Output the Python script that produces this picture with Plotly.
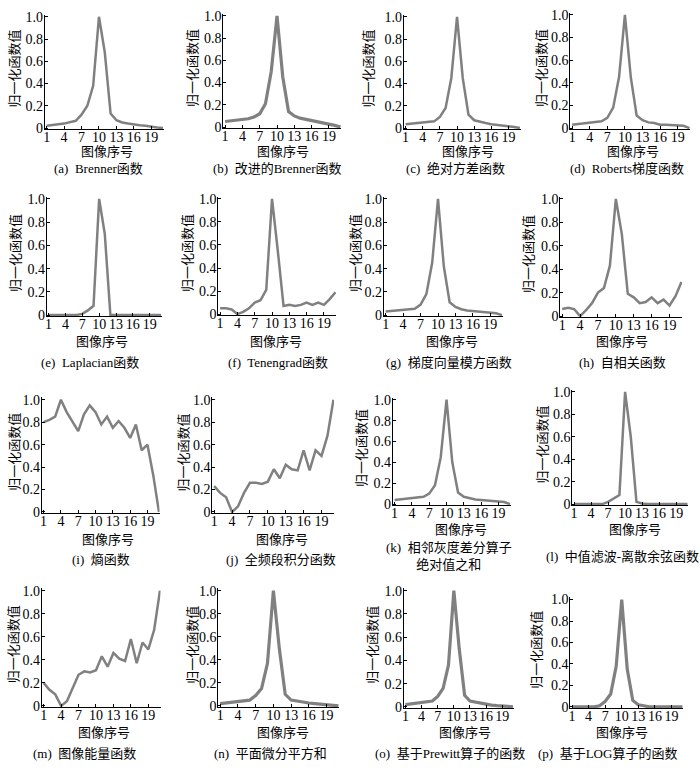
import plotly.graph_objects as go

# image index (21 images per focus series)
images = list(range(1, 22))

brenner = [0.02, 0.03, 0.035, 0.04, 0.05, 0.065, 0.12, 0.2, 0.38, 1.0, 0.68,
           0.13, 0.07, 0.05, 0.04, 0.03, 0.025, 0.02, 0.01, 0.005, 0.0]
brenner_improved = [0.05, 0.055, 0.06, 0.065, 0.075, 0.09, 0.12, 0.21, 0.5, 1.0, 0.45,
                    0.14, 0.1, 0.08, 0.07, 0.055, 0.05, 0.035, 0.025, 0.015, 0.0]
abs_variance = [0.035, 0.04, 0.045, 0.05, 0.055, 0.06, 0.1, 0.18, 0.45, 1.0, 0.45,
                0.12, 0.07, 0.055, 0.045, 0.035, 0.03, 0.025, 0.02, 0.01, 0.0]
roberts = [0.03, 0.035, 0.04, 0.045, 0.05, 0.06, 0.09, 0.18, 0.45, 1.0, 0.45,
           0.11, 0.07, 0.05, 0.045, 0.03, 0.03, 0.025, 0.02, 0.02, 0.0]
laplacian = [0.0, 0.0, 0.0, 0.0, 0.0, 0.0, 0.01, 0.04, 0.08, 1.0, 0.7,
             0.0, 0.0, 0.0, 0.0, 0.0, 0.0, 0.0, 0.0, 0.0, 0.0]
tenengrad = [0.05, 0.05, 0.04, 0.0, 0.02, 0.05, 0.1, 0.12, 0.21, 1.0, 0.55,
             0.07, 0.08, 0.07, 0.08, 0.1, 0.08, 0.1, 0.08, 0.13, 0.19]
grad_square = [0.03, 0.035, 0.04, 0.045, 0.05, 0.055, 0.09, 0.18, 0.45, 1.0, 0.42,
               0.11, 0.07, 0.05, 0.04, 0.035, 0.03, 0.025, 0.02, 0.015, 0.0]
autocorr = [0.06, 0.07, 0.06, 0.0, 0.05, 0.11, 0.2, 0.24, 0.43, 1.0, 0.7,
            0.19, 0.16, 0.11, 0.12, 0.16, 0.11, 0.14, 0.09, 0.17, 0.29]
entropy = [0.8, 0.82, 0.85, 1.0, 0.89, 0.81, 0.72, 0.87, 0.95, 0.89, 0.78,
           0.85, 0.75, 0.81, 0.75, 0.66, 0.78, 0.55, 0.6, 0.33, 0.0]
full_band = [0.23, 0.17, 0.13, 0.0, 0.05, 0.17, 0.26, 0.26, 0.25, 0.27, 0.38,
             0.3, 0.42, 0.38, 0.37, 0.55, 0.37, 0.55, 0.5, 0.68, 1.0]
adj_diff = [0.04, 0.045, 0.05, 0.055, 0.06, 0.07, 0.1, 0.18, 0.45, 1.0, 0.4,
            0.11, 0.07, 0.055, 0.045, 0.04, 0.035, 0.03, 0.03, 0.02, 0.0]
median_dct = [0.0, 0.0, 0.0, 0.0, 0.0, 0.0, 0.02, 0.05, 0.08, 1.0, 0.6,
              0.02, 0.005, 0.0, 0.0, 0.0, 0.0, 0.0, 0.0, 0.0, 0.0]
energy = [0.2, 0.14, 0.1, 0.0, 0.04, 0.16, 0.27, 0.3, 0.29, 0.31, 0.43,
          0.34, 0.46, 0.41, 0.39, 0.58, 0.37, 0.55, 0.49, 0.66, 1.0]
plane_diff = [0.02, 0.025, 0.03, 0.035, 0.04, 0.05, 0.09, 0.15, 0.37, 1.0, 0.5,
              0.1, 0.05, 0.04, 0.03, 0.025, 0.02, 0.015, 0.01, 0.005, 0.0]
prewitt = [0.02, 0.025, 0.03, 0.035, 0.04, 0.05, 0.09, 0.16, 0.36, 1.0, 0.5,
           0.1, 0.05, 0.04, 0.03, 0.02, 0.015, 0.01, 0.01, 0.005, 0.0]
log_op = [0.0, 0.0, 0.0, 0.0, 0.0, 0.01, 0.05, 0.12, 0.38, 1.0, 0.35,
          0.06, 0.02, 0.01, 0.0, 0.0, 0.0, 0.0, 0.0, 0.0, 0.0]

captions = ["(a)  Brenner函数", "(b)  改进的Brenner函数", "(c)  绝对方差函数",
            "(d)  Roberts梯度函数", "(e)  Laplacian函数", "(f)  Tenengrad函数",
            "(g)  梯度向量模方函数", "(h)  自相关函数", "(i)  熵函数",
            "(j)  全频段积分函数", "(k)  相邻灰度差分算子<br>绝对值之和",
            "(l)  中值滤波-离散余弦函数", "(m)  图像能量函数", "(n)  平面微分平方和",
            "(o)  基于Prewitt算子的函数", "(p)  基于LOG算子的函数"]

x_ticks = [1, 4, 7, 10, 13, 16, 19]
y_ticks = [0, 0.2, 0.4, 0.6, 0.8, 1.0]
y_ticktext = ["0", "0.2", "0.4", "0.6", "0.8", "1.0"]

series = [brenner, brenner_improved, abs_variance, roberts, laplacian, tenengrad,
          grad_square, autocorr, entropy, full_band, adj_diff, median_dct,
          energy, plane_diff, prewitt, log_op]
thick = [False, True, False, False, False, False, False, False,
         False, False, False, False, False, True, True, True]

# panel geometry in pixels: axis left, right, top(1.0), bottom(0)
boxes = [(43, 162, 12, 125), (222, 340, 11, 124), (403, 520, 12, 125), (570, 690, 10, 125),
         (45, 160, 197, 315), (217, 335, 197, 314), (383, 502, 197, 315), (560, 682, 197, 316),
         (40, 158, 401, 515), (211, 333, 401, 515), (392, 510, 401, 507), (572, 688, 393, 507),
         (40, 159, 595, 712), (217, 338, 595, 712), (403, 513, 595, 713), (570, 683, 604, 713)]
# x-title (cx, cy), caption (cx, cy), y-title cx
xtitle_pos = [(105, 149), (282, 149), (467, 149), (633, 149),
              (100, 342), (275, 342), (451, 342), (622, 342),
              (106, 543), (281, 543), (460, 533), (635, 533),
              (102, 739), (282, 739), (464, 739), (622, 739)]
caption_pos = [(97, 166), (276, 166), (455, 166), (627, 166),
               (88, 363), (277, 363), (448, 363), (622, 363),
               (99, 563), (280, 563), (448, 560), (622, 560),
               (83, 760), (269, 760), (449, 760), (607, 760)]
ytitle_x = [13, 191, 368, 541, 13, 186, 354, 528, 13, 182, 361, 542, 11, 191, 372, 536]

W, H = 700, 768
SERIF = "Liberation Serif, 'Noto Sans CJK SC', serif"


def px(x):
    return x / W


def py(y):
    return 1 - y / H


fig = go.Figure()
layout = dict(width=W, height=H, margin=dict(l=0, r=0, t=0, b=0),
              plot_bgcolor="white", paper_bgcolor="white", showlegend=False,
              font=dict(family=SERIF, color="black"))
annotations = []

for i, vals in enumerate(series):
    n = i + 1
    sx = "" if n == 1 else str(n)
    left, right, top, bottom = boxes[i]
    hpu = bottom - top
    fig.add_trace(go.Scatter(x=images, y=vals, mode="lines",
                             line=dict(color="#808080", width=3.2 if thick[i] else 2.5),
                             xaxis="x" + sx, yaxis="y" + sx, hoverinfo="skip"))
    layout["xaxis" + sx] = dict(
        domain=[px(left), px(right)], range=[0.7, 21.1], anchor="y" + sx,
        tickvals=x_ticks, ticks="inside", ticklen=3, tickcolor="black",
        ticklabelstandoff=-5,
        showline=True, linecolor="black", linewidth=1, showgrid=False, zeroline=False,
        tickfont=dict(size=14, family=SERIF))
    layout["yaxis" + sx] = dict(
        domain=[py(bottom + 0.01 * hpu), py(top - 0.02 * hpu)], range=[-0.01, 1.02],
        anchor="x" + sx, tickvals=y_ticks, ticktext=y_ticktext,
        ticks="inside", ticklen=3, tickcolor="black", ticklabelstandoff=-2,
        showline=True, linecolor="black", linewidth=1, showgrid=False, zeroline=False,
        tickfont=dict(size=14, family=SERIF))
    cx, cy = xtitle_pos[i]
    annotations.append(dict(text="图像序号", x=px(cx), y=py(cy), xref="paper", yref="paper",
                            showarrow=False, font=dict(size=13), xanchor="center", yanchor="middle"))
    cx, cy = caption_pos[i]
    annotations.append(dict(text=captions[i], x=px(cx), y=py(cy), xref="paper", yref="paper",
                            showarrow=False, font=dict(size=13), align="center",
                            xanchor="center", yanchor="middle"))
    annotations.append(dict(text="归一化函数值", x=px(ytitle_x[i]), y=py((top + bottom) / 2 - 4),
                            xref="paper", yref="paper", showarrow=False, textangle=-90,
                            font=dict(size=13), xanchor="center", yanchor="middle"))

layout["annotations"] = annotations
fig.update_layout(**layout)
# drop the default page margin so the 700x768 figure fills the window exactly
fig.write_html("out.html", config={"displayModeBar": False},
               post_script="document.body.style.margin='0';document.body.style.overflow='hidden';")
